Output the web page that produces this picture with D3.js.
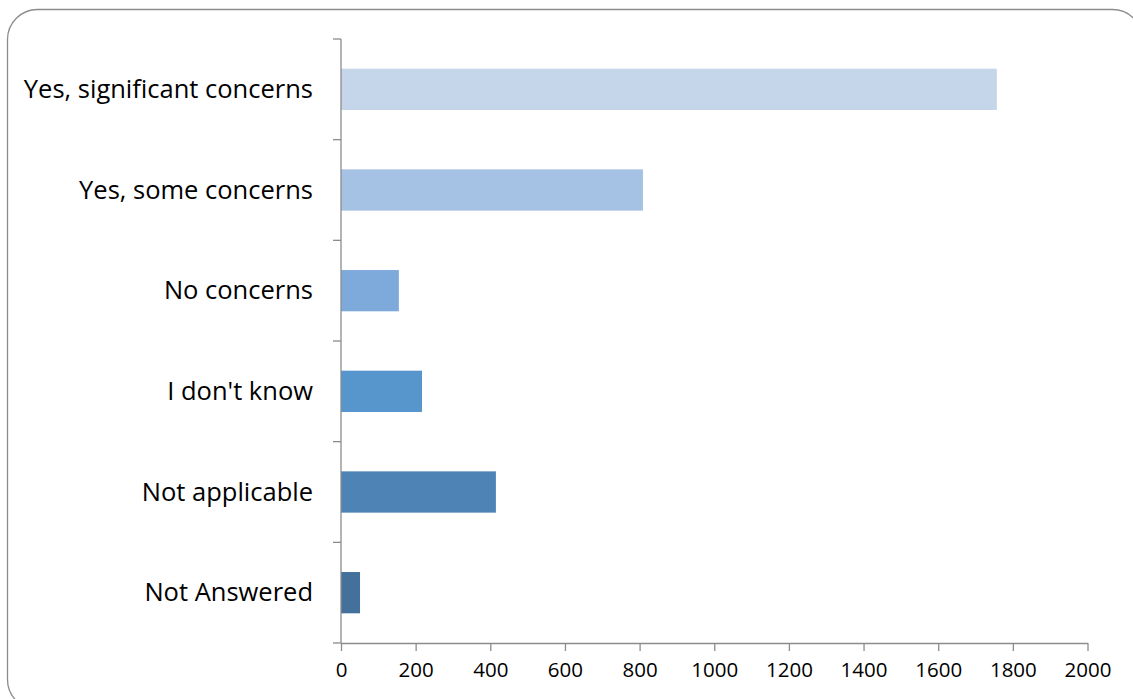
<!DOCTYPE html>
<html>
<head>
<meta charset="utf-8">
<script src="https://cdn.jsdelivr.net/npm/d3@7"></script>
<style>
  html, body { margin: 0; padding: 0; background: #fff; }
  svg { display: block; }
</style>
</head>
<body>
<script>
const categories = ["Yes, significant concerns", "Yes, some concerns", "No concerns", "I don't know", "Not applicable", "Not Answered"];
const values = [1757, 809, 155, 217, 415, 51];
const barColors = ["#c5d5ea", "#a5c1e4", "#7eaadb", "#5795cd", "#4d84b5", "#43719c"];
const xTicks = [0, 200, 400, 600, 800, 1000, 1200, 1400, 1600, 1800, 2000];

const W = 1133, H = 699;
const svg = d3.select("body").append("svg").attr("width", W).attr("height", H);

// rounded border
svg.append("rect")
  .attr("x", 7.5).attr("y", 9.5).attr("width", 1135).attr("height", 700)
  .attr("rx", 30).attr("ry", 30)
  .attr("fill", "none").attr("stroke", "#8c8c8c").attr("stroke-width", 1.3);

const x = d3.scaleLinear().domain([0, 2000]).range([341, 1087.5]);
const y = d3.scaleBand().domain(categories).range([39, 643]).paddingInner(0.59).paddingOuter(0.295);

const font = "'Open Sans', 'Noto Sans', sans-serif";

// bars
svg.selectAll("rect.bar").data(categories).enter().append("rect")
  .attr("class", "bar")
  .attr("x", x(0))
  .attr("y", d => y(d))
  .attr("width", (d, i) => x(values[i]) - x(0))
  .attr("height", y.bandwidth())
  .attr("fill", (d, i) => barColors[i]);

// y axis line and ticks (boundaries between categories)
const bandEdges = d3.range(categories.length + 1).map(i => 39 + i * (604 / categories.length));
const gy = svg.append("g");
gy.append("line").attr("x1", 341).attr("x2", 341).attr("y1", 39).attr("y2", 643)
  .attr("stroke", "#8c8c8c").attr("stroke-width", 1.3);
gy.selectAll("line.t").data(bandEdges).enter().append("line")
  .attr("x1", 333).attr("x2", 341).attr("y1", d => d).attr("y2", d => d)
  .attr("stroke", "#8c8c8c").attr("stroke-width", 1.3);

// y labels
svg.selectAll("text.cat").data(categories).enter().append("text")
  .attr("x", 313)
  .attr("y", d => y(d) + y.bandwidth() / 2)
  .attr("dy", "0.34em")
  .attr("text-anchor", "end")
  .attr("font-family", font)
  .attr("font-size", 25.5)
  .attr("fill", "#000")
  .text(d => d);

// x axis
const gx = svg.append("g").attr("transform", "translate(0,643)")
  .call(d3.axisBottom(x).tickValues(xTicks).tickSize(8).tickSizeOuter(0).tickPadding(11).tickFormat(d3.format("d")));
gx.select(".domain").attr("stroke", "#8c8c8c").attr("stroke-width", 1.3);
gx.selectAll(".tick line").attr("stroke", "#8c8c8c").attr("stroke-width", 1.3);
gx.selectAll(".tick text").attr("font-family", font).attr("font-size", 20.5).attr("fill", "#000");
</script>
</body>
</html>
